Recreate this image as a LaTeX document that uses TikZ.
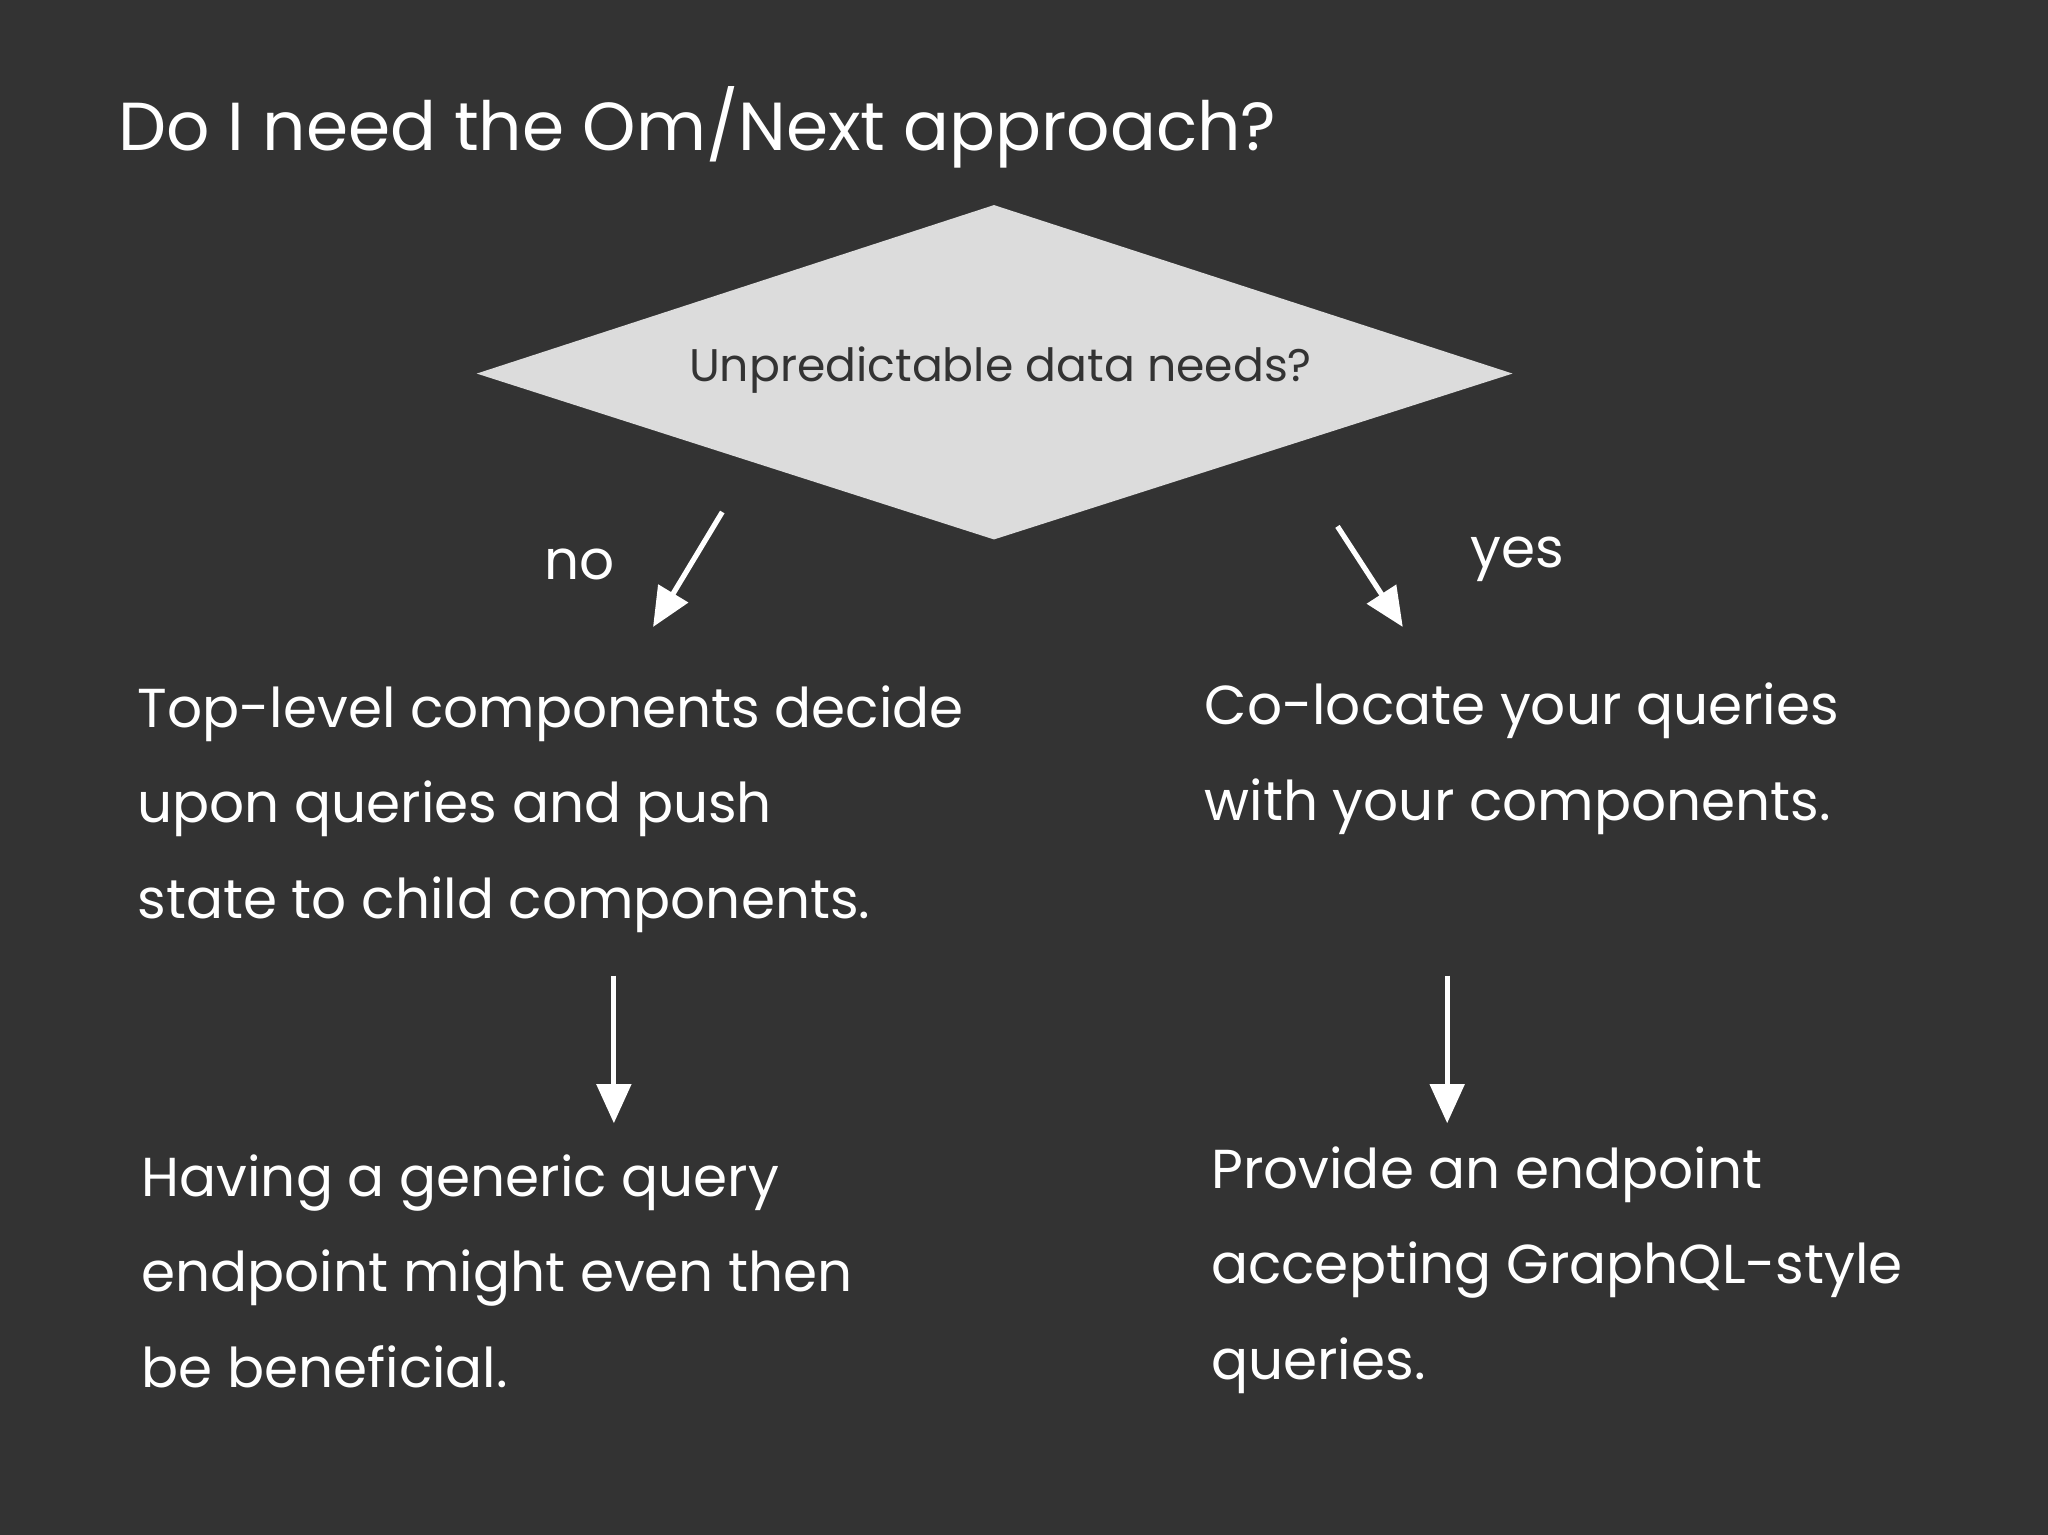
\documentclass[tikz,border=0pt]{standalone}
\usepackage{fontspec}
\setmainfont{Poppins}
\usetikzlibrary{arrows.meta}
\definecolor{bg}{HTML}{333333}
\definecolor{dia}{HTML}{DCDCDC}
\begin{document}
\begin{tikzpicture}[x=0.5pt,y=-0.5pt,
  txt/.style={text=white,font=\fontsize{21}{36.5}\selectfont,align=left,anchor=base west,inner sep=0},
  arr/.style={draw=white,line width=2pt,-{Triangle[width=13pt,length=15pt]}}]
\fill[bg] (0,0) rectangle (1568,1175);
\node[text=white,font=\fontsize{26}{32}\selectfont,anchor=base west,inner sep=0] (title) at (90,115) {Do I need the Om/Next approach?};
\fill[dia] (761,157) -- (1158,286) -- (761,413) -- (365,286) -- cycle;
\node[text=bg,font=\fontsize{17.5}{22}\selectfont,inner sep=0] (q) at (766,283) {Unpredictable data needs?};
\coordinate (n1) at (553,392); \coordinate (n2) at (500,480);
\coordinate (y1) at (1024,403); \coordinate (y2) at (1074,480);
\coordinate (l1) at (470,747); \coordinate (l2) at (470,860);
\coordinate (r1) at (1108,747); \coordinate (r2) at (1108,860);
\draw[arr] (n1) -- (n2);
\draw[arr] (y1) -- (y2);
\draw[arr] (l1) -- (l2);
\draw[arr] (r1) -- (r2);
\node[text=white,font=\fontsize{21}{26}\selectfont] (no) at (444,432) {no};
\node[text=white,font=\fontsize{21}{26}\selectfont] (yes) at (1162,428) {yes};
\node[txt] (a) at (105,703) {Top-level components decide\\upon queries and push\\state to child components.};
\node[txt] (b) at (922,628) {Co-locate your queries\\with your components.};
\node[txt] (c) at (108,1062) {Having a generic query\\endpoint might even then\\be beneficial.};
\node[txt] (d) at (927,1056) {Provide an endpoint\\accepting GraphQL-style\\queries.};
\end{tikzpicture}
\end{document}
